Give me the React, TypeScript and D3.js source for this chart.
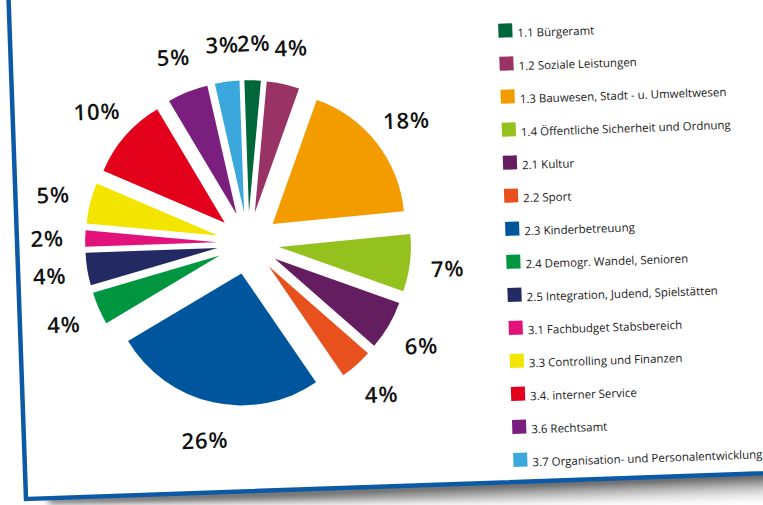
import React from 'react';
import * as d3 from 'd3';

const categories = [
  '1.1 Bürgeramt',
  '1.2 Soziale Leistungen',
  '1.3 Bauwesen, Stadt - u. Umweltwesen',
  '1.4 Öffentliche Sicherheit und Ordnung',
  '2.1 Kultur',
  '2.2 Sport',
  '2.3 Kinderbetreuung',
  '2.4 Demogr. Wandel, Senioren',
  '2.5 Integration, Judend, Spielstätten',
  '3.1 Fachbudget Stabsbereich',
  '3.3 Controlling und Finanzen',
  '3.4. interner Service',
  '3.6 Rechtsamt',
  '3.7 Organisation- und Personalentwicklung',
];
const values = [2, 4, 18, 7, 6, 4, 26, 4, 4, 2, 5, 10, 5, 3];
const percentLabels = ['2%', '4%', '18%', '7%', '6%', '4%', '26%', '4%', '4%', '2%', '5%', '10%', '5%', '3%'];
const colors = [
  '#00673a', '#993366', '#f39c00', '#95c11f', '#641e5f', '#e8501e', '#00569c',
  '#009640', '#232a63', '#e2127a', '#f3e500', '#e2001a', '#7b1f7e', '#3aa8dc',
];

export default function App() {
  const W = 763, H = 505;
  const cx = 248.5, cy = 238.5, r = 132, explode = 31, labelR = 201;
  const pie = d3.pie<number>().sort(null).value((d) => d);
  const arcs = pie(values);
  const arc = d3.arc<d3.PieArcDatum<number>>().innerRadius(0).outerRadius(r);
  const legendY = d3.scalePoint<string>().domain(categories).range([28, 457.5]);
  const legendX = 506, sq = 14;

  return (
    <svg width={W} height={H} style={{ position: 'absolute', left: 0, top: 0, background: '#fff' }}>
      <defs>
        <linearGradient id="shadowGrad" gradientUnits="userSpaceOnUse" x1="0" y1="486" x2="0" y2="520">
          <stop offset="0" stopColor="#3c3c3c" />
          <stop offset="1" stopColor="#ffffff" stopOpacity="0" />
        </linearGradient>
        <filter id="blur" x="-10%" y="-50%" width="120%" height="200%">
          <feGaussianBlur stdDeviation="3" />
        </filter>
      </defs>
      <g transform="rotate(-2, 381, 252)">
        <polygon
          points="40,486 900,484 900,520 40,492"
          fill="url(#shadowGrad)"
          filter="url(#blur)"
        />
        <rect x={17.6} y={-60} width={900} height={546.5} fill="#fff" stroke="#0c5aa6" strokeWidth={4.5} />
        <g transform={`translate(${cx},${cy})`}>
          {arcs.map((a, i) => {
            const m = (a.startAngle + a.endAngle) / 2;
            const dx = explode * Math.sin(m);
            const dy = -explode * Math.cos(m);
            return (
              <path key={i} d={arc(a) || ''} fill={colors[i]} transform={`translate(${dx},${dy})`} />
            );
          })}
          {arcs.map((a, i) => {
            const m = (a.startAngle + a.endAngle) / 2;
            return (
              <text
                key={'l' + i}
                x={labelR * Math.sin(m)}
                y={-labelR * Math.cos(m)}
                textAnchor="middle"
                dominantBaseline="central"
                fontFamily="'Open Sans', sans-serif"
                fontWeight={600}
                fontSize={22}
                letterSpacing={1}
                fill="#111"
              >
                {percentLabels[i]}
              </text>
            );
          })}
        </g>
        {categories.map((c, i) => {
          const y = legendY(c) as number;
          return (
            <g key={'g' + i}>
              <rect x={legendX} y={y} width={sq} height={sq} fill={colors[i]} />
              <text
                x={legendX + sq + 5}
                y={y + sq}
                fontFamily="'Open Sans', sans-serif"
                fontSize={11.5}
                fill="#1a1a1a"
              >
                {c}
              </text>
            </g>
          );
        })}
      </g>
    </svg>
  );
}
